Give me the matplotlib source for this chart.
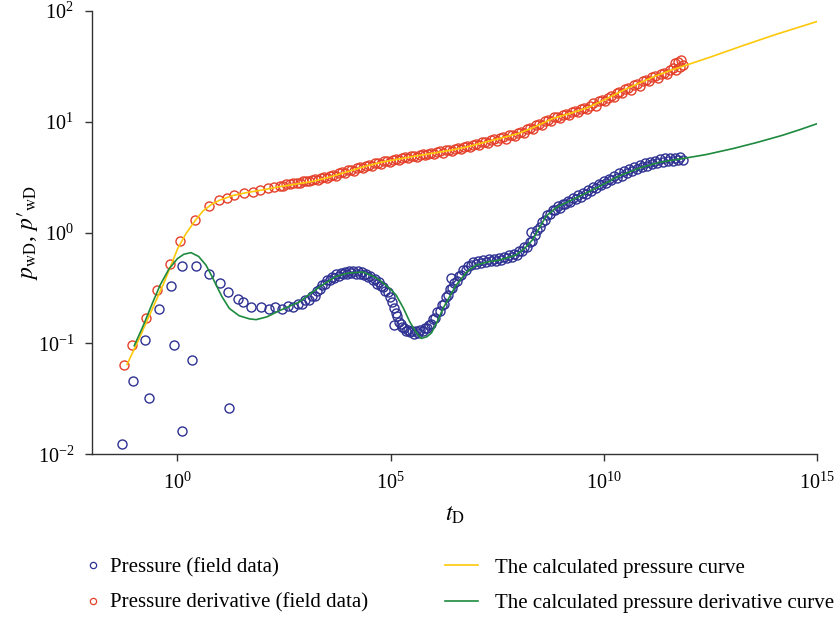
import numpy as np
import matplotlib
matplotlib.use("Agg")
import matplotlib.pyplot as plt
from matplotlib.lines import Line2D

plt.rcParams['font.family'] = 'serif'
plt.rcParams['font.serif'] = ['Liberation Serif', 'DejaVu Serif']
plt.rcParams['mathtext.fontset'] = 'stix'

# field data, stored as log10 values
# blue points ("Pressure (field data)")
log_t_blue = [-1.30, -1.03, -0.75, -0.67, -0.44, -0.16, -0.08, 0.12, 0.12, 0.35,
              0.43, 0.75, 0.99, 1.18, 1.22, 1.42, 1.53, 1.73, 1.96, 2.16, 2.29,
              2.46, 2.60, 2.72, 2.82, 2.92, 3.00, 3.08, 3.15, 3.22, 3.28,
              3.34, 3.40, 3.46, 3.52, 3.58, 3.63, 3.68, 3.73, 3.78, 3.83,
              3.88, 3.93, 3.98, 4.03, 4.08, 4.13, 4.18, 4.23, 4.28, 4.33,
              4.38, 4.43, 4.48, 4.53, 4.58, 4.63, 4.68, 4.73, 4.78, 4.83,
              4.88, 4.93, 4.98, 5.03, 5.07, 5.08, 5.12, 5.16, 5.20, 5.24,
              5.28, 5.32, 5.36, 5.40, 5.45, 5.50, 5.55, 5.60, 5.65, 5.70,
              5.75, 5.80, 5.85, 5.90, 5.95, 6.00, 6.05, 6.10, 6.15, 6.20,
              6.25, 6.30, 6.35, 6.40, 6.42, 6.45, 6.50, 6.55, 6.60, 6.65,
              6.70, 6.76, 6.82, 6.88, 6.94, 7.00, 7.06, 7.12, 7.18, 7.24,
              7.30, 7.36, 7.42, 7.48, 7.54, 7.60, 7.66, 7.72, 7.78, 7.84,
              7.90, 7.96, 8.02, 8.08, 8.14, 8.20, 8.26, 8.30, 8.32, 8.38,
              8.44, 8.50, 8.56, 8.62, 8.68, 8.74, 8.80, 8.86, 8.92, 8.98,
              9.04, 9.10, 9.16, 9.22, 9.28, 9.34, 9.40, 9.46, 9.52, 9.58,
              9.64, 9.70, 9.76, 9.82, 9.88, 9.94, 10.00, 10.06, 10.12, 10.18,
              10.24, 10.30, 10.36, 10.42, 10.48, 10.54, 10.60, 10.66, 10.72, 10.78,
              10.84, 10.90, 10.96, 11.02, 11.08, 11.14, 11.20, 11.26, 11.32, 11.38,
              11.44, 11.50, 11.56, 11.62, 11.68, 11.74, 11.80, 11.85]
log_p_blue = [-1.91, -1.34, -0.97, -1.49, -0.69, -0.48, -1.01, -0.30, -1.79, -1.15,
              -0.30, -0.37, -0.45, -0.54, -1.58, -0.60, -0.63, -0.675, -0.675, -0.687, -0.672,
              -0.690, -0.665, -0.668, -0.640, -0.640, -0.610, -0.612, -0.575, -0.570, -0.530,
              -0.505, -0.470, -0.465, -0.430, -0.430, -0.398, -0.405, -0.375, -0.388, -0.362,
              -0.376, -0.352, -0.370, -0.346, -0.366, -0.342, -0.370, -0.345, -0.375, -0.352,
              -0.385, -0.375, -0.402, -0.395, -0.430, -0.420, -0.462, -0.442, -0.482, -0.492,
              -0.525, -0.540, -0.585, -0.625, -0.830, -0.680, -0.725, -0.750, -0.805, -0.820,
              -0.855, -0.860, -0.888, -0.878, -0.900, -0.885, -0.915, -0.890, -0.910, -0.875,
              -0.890, -0.862, -0.865, -0.830, -0.825, -0.780, -0.770, -0.720, -0.710, -0.655,
              -0.640, -0.580, -0.565, -0.510, -0.410, -0.500, -0.450, -0.440, -0.390, -0.380,
              -0.335, -0.335, -0.300, -0.295, -0.265, -0.285, -0.258, -0.272, -0.248, -0.265,
              -0.242, -0.260, -0.238, -0.255, -0.230, -0.245, -0.218, -0.232, -0.205, -0.218,
              -0.190, -0.200, -0.165, -0.168, -0.130, -0.128, -0.085, 0.010, -0.075, -0.025,
              0.025, 0.050, 0.100, 0.110, 0.160, 0.165, 0.205, 0.202, 0.238, 0.225,
              0.262, 0.256, 0.288, 0.280, 0.312, 0.300, 0.340, 0.326, 0.362, 0.352,
              0.388, 0.376, 0.412, 0.400, 0.440, 0.428, 0.462, 0.450, 0.486, 0.472,
              0.510, 0.496, 0.535, 0.515, 0.555, 0.535, 0.575, 0.555, 0.592, 0.572,
              0.610, 0.590, 0.625, 0.605, 0.640, 0.618, 0.650, 0.630, 0.662, 0.640,
              0.670, 0.646, 0.675, 0.650, 0.678, 0.655, 0.680, 0.660]

# red points ("Pressure derivative (field data)")
log_t_red = [-1.26, -1.06, -0.735, -0.477, -0.164, 0.07, 0.423, 0.735, 0.986, 1.17,
             1.34, 1.57, 1.77, 1.95, 2.12, 2.27,
             2.40, 2.48, 2.56, 2.64, 2.72, 2.80, 2.88, 2.95, 3.02, 3.09,
             3.16, 3.23, 3.30, 3.37, 3.44, 3.51, 3.58, 3.65, 3.72, 3.79,
             3.86, 3.93, 4.00, 4.07, 4.14, 4.21, 4.28, 4.35, 4.42, 4.49,
             4.56, 4.63, 4.70, 4.77, 4.84, 4.91, 4.98, 5.05, 5.12, 5.19,
             5.26, 5.33, 5.40, 5.47, 5.54, 5.61, 5.68, 5.75, 5.82, 5.89,
             5.96, 6.03, 6.10, 6.17, 6.24, 6.31, 6.38, 6.45, 6.52, 6.59,
             6.66, 6.73, 6.80, 6.87, 6.94, 7.01, 7.08, 7.15, 7.22, 7.29,
             7.36, 7.43, 7.50, 7.57, 7.64, 7.71, 7.78, 7.85, 7.92, 7.99,
             8.06, 8.13, 8.20, 8.27, 8.34, 8.41, 8.48, 8.55, 8.62, 8.69,
             8.76, 8.83, 8.90, 8.97, 9.04, 9.11, 9.18, 9.25, 9.32, 9.39,
             9.46, 9.53, 9.60, 9.67, 9.74, 9.81, 9.88, 9.95, 10.02, 10.09,
             10.16, 10.23, 10.30, 10.37, 10.44, 10.51, 10.58, 10.65, 10.72, 10.79,
             10.86, 10.93, 11.00, 11.07, 11.14, 11.21, 11.28, 11.35, 11.42, 11.49,
             11.56, 11.62, 11.66, 11.70, 11.74, 11.78, 11.82, 11.85]
log_p_red = [-1.195, -1.01, -0.774, -0.521, -0.286, -0.075, 0.115, 0.241, 0.295, 0.31,
             0.34, 0.355, 0.37, 0.385, 0.405, 0.415,
             0.425, 0.420, 0.435, 0.440, 0.445, 0.452, 0.448, 0.465, 0.470, 0.462,
             0.478, 0.485, 0.475, 0.495, 0.500, 0.490, 0.515, 0.525, 0.515, 0.540,
             0.545, 0.538, 0.562, 0.570, 0.560, 0.585, 0.592, 0.582, 0.605, 0.612,
             0.600, 0.625, 0.632, 0.620, 0.645, 0.650, 0.640, 0.660, 0.668, 0.655,
             0.675, 0.680, 0.670, 0.690, 0.695, 0.685, 0.705, 0.708, 0.698, 0.712,
             0.720, 0.710, 0.728, 0.735, 0.722, 0.742, 0.748, 0.735, 0.755, 0.765,
             0.752, 0.775, 0.782, 0.770, 0.795, 0.802, 0.790, 0.815, 0.822, 0.810,
             0.835, 0.842, 0.830, 0.855, 0.862, 0.850, 0.878, 0.885, 0.872, 0.900,
             0.912, 0.900, 0.932, 0.945, 0.935, 0.968, 0.980, 0.970, 1.005, 1.018,
             1.008, 1.040, 1.048, 1.035, 1.065, 1.072, 1.060, 1.088, 1.095, 1.085,
             1.115, 1.125, 1.112, 1.145, 1.175, 1.148, 1.190, 1.198, 1.185, 1.218,
             1.232, 1.225, 1.262, 1.270, 1.258, 1.295, 1.305, 1.292, 1.332, 1.340,
             1.328, 1.365, 1.378, 1.365, 1.402, 1.412, 1.398, 1.435, 1.442, 1.430,
             1.468, 1.490, 1.530, 1.470, 1.545, 1.500, 1.560, 1.510]

# calculated curves
log_t_calc_p = [-1.18, -0.90, -0.60, -0.30, 0.00, 0.20, 0.42, 0.60, 0.80, 1.00,
                1.30, 1.60, 2.00, 2.40, 2.80, 3.20, 3.60, 4.00, 4.40, 4.80,
                5.20, 5.60, 6.00, 6.40, 6.80, 7.20, 7.60, 8.00, 8.40, 8.80,
                9.20, 9.60, 10.00, 10.40, 10.80, 11.20, 11.60, 11.80, 12.50,
                13.20, 14.00, 15.00]
log_p_calc_p = [-1.19, -0.96, -0.70, -0.44, -0.15, -0.01, 0.11, 0.195, 0.255, 0.295,
                0.335, 0.36, 0.386, 0.415, 0.440, 0.465, 0.505, 0.552, 0.598, 0.637,
                0.665, 0.692, 0.718, 0.743, 0.775, 0.815, 0.855, 0.895, 0.958, 1.030,
                1.075, 1.125, 1.195, 1.275, 1.345, 1.412, 1.470, 1.495, 1.585,
                1.680, 1.785, 1.906]

log_t_calc_d = [-1.01, -0.80, -0.60, -0.40, -0.20, 0.00, 0.15, 0.32, 0.50, 0.67,
                0.80, 0.91, 1.05, 1.22, 1.45, 1.69, 1.85, 2.10, 2.39, 2.86,
                3.33, 3.72, 4.00, 4.35, 4.60, 4.74, 5.00, 5.13, 5.30, 5.45,
                5.60, 5.72, 5.85, 5.96, 6.10, 6.23, 6.54, 6.80, 7.01, 7.30,
                7.56, 7.95, 8.15, 8.34, 8.50, 8.65, 8.90, 9.28, 9.60, 9.91,
                10.38, 10.85, 11.31, 11.71, 12.40, 13.04, 13.60, 14.20, 14.60, 14.99]
log_p_calc_d = [-1.02, -0.84, -0.65, -0.47, -0.33, -0.235, -0.195, -0.180, -0.215, -0.292,
                -0.385, -0.473, -0.58, -0.684, -0.750, -0.778, -0.785, -0.760, -0.705, -0.625,
                -0.490, -0.395, -0.365, -0.355, -0.395, -0.427, -0.510, -0.563, -0.680, -0.804,
                -0.900, -0.955, -0.940, -0.905, -0.800, -0.684, -0.473, -0.350, -0.292, -0.262,
                -0.247, -0.201, -0.140, -0.060, 0.050, 0.150, 0.230, 0.300, 0.360, 0.420,
                0.515, 0.585, 0.635, 0.660, 0.705, 0.760, 0.815, 0.880, 0.930, 0.982]

blue = '#2e3192'
red = '#e4402a'
yellow = '#fdc80a'
green = '#1d8a3e'

fig = plt.figure(figsize=(8.37, 6.18), dpi=100)
ax = fig.add_axes([0.110, 0.265, 0.866, 0.717])

ax.plot(10.0 ** np.array(log_t_blue), 10.0 ** np.array(log_p_blue), ls='none',
        marker='o', ms=6.5, mfc='none', mec=blue, mew=1.0, zorder=2)
ax.plot(10.0 ** np.array(log_t_red), 10.0 ** np.array(log_p_red), ls='none',
        marker='o', ms=6.5, mfc='none', mec=red, mew=1.0, zorder=2)
ax.plot(10.0 ** np.array(log_t_calc_p), 10.0 ** np.array(log_p_calc_p),
        color=yellow, lw=1.2, zorder=3)
ax.plot(10.0 ** np.array(log_t_calc_d), 10.0 ** np.array(log_p_calc_d),
        color=green, lw=1.2, zorder=3)

ax.set_xscale('log')
ax.set_yscale('log')
ax.set_xlim(1e-2, 1e15)
ax.set_ylim(1e-2, 1e2)
ax.set_xticks([1e0, 1e5, 1e10, 1e15])
ax.set_yticks([1e-2, 1e-1, 1e0, 1e1, 1e2])
ax.minorticks_off()
for s in ['top', 'right']:
    ax.spines[s].set_visible(False)
for s in ['left', 'bottom']:
    ax.spines[s].set_color('#333333')
    ax.spines[s].set_linewidth(1.0)
ax.tick_params(direction='out', length=5, width=1, color='#333333', labelsize=14.5, pad=8)

ax.set_xlabel(r'$t_{\mathrm{D}}$', fontsize=17, labelpad=8)
ax.set_ylabel('$p_{\\mathrm{wD}}$, $p\u2032_{\\mathrm{wD}}$', fontsize=17)
ax.yaxis.set_label_coords(-0.072, 0.5)

h1 = [Line2D([], [], ls='none', marker='o', ms=4.5, mfc='none', mec=blue, mew=0.9),
      Line2D([], [], ls='none', marker='o', ms=4.5, mfc='none', mec=red, mew=0.9)]
h2 = [Line2D([], [], color=yellow, lw=1.2), Line2D([], [], color=green, lw=1.2)]

leg1 = fig.legend(h1, ['Pressure (field data)', 'Pressure derivative (field data)'],
                  loc='upper left', bbox_to_anchor=(0.104, 0.097), frameon=False,
                  fontsize=15, handlelength=0.6, handletextpad=0.5, labelspacing=0.75,
                  borderaxespad=0, borderpad=0)
leg2 = fig.legend(h2, ['The calculated pressure curve', 'The calculated pressure derivative curve'],
                  loc='upper left', bbox_to_anchor=(0.532, 0.097), frameon=False,
                  fontsize=15, handlelength=1.55, handletextpad=0.85, labelspacing=0.75,
                  borderaxespad=0, borderpad=0)

fig.savefig('out.png', dpi=100)
